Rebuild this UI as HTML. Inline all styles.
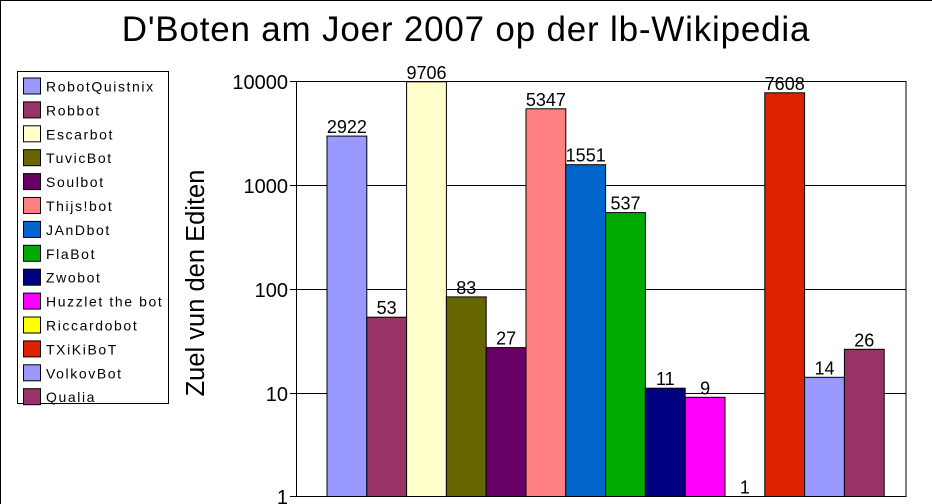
<!DOCTYPE html>
<html><head><meta charset="utf-8"><style>
body{margin:0;background:#fff}
svg{display:block;font-family:"Liberation Sans",sans-serif}
</style></head><body>
<svg width="932" height="504" viewBox="0 0 932 504">
<rect x="0.5" y="0.5" width="940" height="520" fill="#fff" stroke="#000"/>
<text x="466" y="41" font-size="35" text-anchor="middle" letter-spacing="0.8">D'Boten am Joer 2007 op der lb-Wikipedia</text>
<rect x="296.5" y="81.5" width="609.5" height="415" fill="#fff" stroke="#000"/>
<g stroke="#000">
<line x1="290" y1="81.5" x2="906" y2="81.5"/>
<line x1="290" y1="185.5" x2="906" y2="185.5"/>
<line x1="290" y1="289.5" x2="906" y2="289.5"/>
<line x1="290" y1="393.5" x2="906" y2="393.5"/>
<line x1="290" y1="496.5" x2="906" y2="496.5"/>
</g>
<g font-size="20" text-anchor="end">
<text x="288" y="89">10000</text>
<text x="288" y="193">1000</text>
<text x="288" y="297">100</text>
<text x="288" y="401">10</text>
<text x="288" y="504">1</text>
</g>
<text transform="translate(204,283) rotate(-90)" font-size="25.5" text-anchor="middle">Zuel vun den Editen</text>
<g stroke="#000" id="bars"></g>
<g font-size="18" text-anchor="middle" id="labels"></g>
<rect x="17.5" y="71.5" width="151" height="332" fill="#fff" stroke="#000"/>
<g id="legend" font-size="14"></g>
<script>
var d=[["RobotQuistnix","#9999ff",2922],["Robbot","#993366",53],["Escarbot","#ffffcc",9706],["TuvicBot","#666600",83],["Soulbot","#660066",27],["Thijs!bot","#ff8080",5347],["JAnDbot","#0066cc",1551],["FlaBot","#00aa00",537],["Zwobot","#000080",11],["Huzzlet the bot","#ff00ff",9],["Riccardobot","#ffff00",1],["TXiKiBoT","#dd2200",7608],["VolkovBot","#9999ff",14],["Qualia","#993366",26]];
var ns="http://www.w3.org/2000/svg",b=document.getElementById("bars"),l=document.getElementById("labels"),g=document.getElementById("legend");
function el(p,t,a,txt){var e=document.createElementNS(ns,t);for(var k in a)e.setAttribute(k,a[k]);if(txt)e.textContent=txt;p.appendChild(e);return e;}
d.forEach(function(r,i){
 var x=327+i*39.8,y=496.5-104*Math.log10(r[2]);
 if(r[2]>1)el(b,"rect",{x:x.toFixed(1),y:y.toFixed(1),width:39.8,height:(496.5-y).toFixed(1),fill:r[1]});
 el(l,"text",{x:(x+19.9).toFixed(1),y:(y-3).toFixed(1)},String(r[2]));
 var ly=78+i*23.9;
 el(g,"rect",{x:23.5,y:ly.toFixed(1),width:17,height:16,fill:r[1],stroke:"#000"});
 el(g,"text",{x:46,y:(ly+13.5).toFixed(1),"letter-spacing":"1.6"},r[0]);
});
</script>
</svg>
</body></html>
